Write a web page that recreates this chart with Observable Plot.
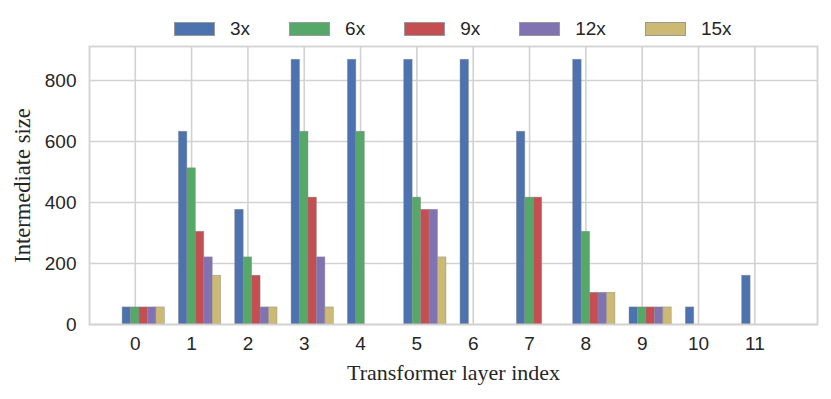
<!DOCTYPE html>
<html>
<head>
<meta charset="utf-8">
<script src="https://cdn.jsdelivr.net/npm/d3@7"></script>
<script src="https://cdn.jsdelivr.net/npm/@observablehq/plot@0.6"></script>
<style>
  html, body { margin: 0; padding: 0; background: #fff; }
  #wrap { width: 831px; height: 399px; font-family: "Liberation Sans", Arial, sans-serif; color: #262626; }
  #legend { width: 831px; height: 40px; box-sizing: border-box; padding: 18px 0 0 174px;
            display: flex; justify-content: flex-start; align-items: center; gap: 39px; font-size: 19px; }
  .item { display: flex; align-items: center; gap: 15px; }
  .sw { width: 41px; height: 14px; box-sizing: border-box; border: 0.6px solid #999; }
</style>
</head>
<body>
<div id="wrap">
  <div id="legend"></div>
  <div id="chart"></div>
</div>
<script>
const layers = [0, 1, 2, 3, 4, 5, 6, 7, 8, 9, 10, 11];
const seriesNames = ["3x", "6x", "9x", "12x", "15x"];
const seriesColors = ["#4C72B0", "#55A868", "#C44E52", "#8172B2", "#CCB974"];
const v3x  = [56, 632, 376, 868, 868, 868, 868, 632, 868, 56, 56, 160];
const v6x  = [56, 512, 220, 632, 632, 416, 0, 416, 304, 56, 0, 0];
const v9x  = [56, 304, 160, 416, 0, 376, 0, 416, 104, 56, 0, 0];
const v12x = [56, 220, 56, 220, 0, 376, 0, 0, 104, 56, 0, 0];
const v15x = [56, 160, 56, 56, 0, 220, 0, 0, 104, 56, 0, 0];
const yTicks = [0, 200, 400, 600, 800];

const seriesValues = [v3x, v6x, v9x, v12x, v15x];
const barWidth = 0.15;
const rows = [];
seriesValues.forEach((vals, k) => {
  vals.forEach((v, i) => {
    if (v > 0) rows.push({layer: layers[i], k, series: seriesNames[k], value: v});
  });
});

// legend
const legend = document.getElementById("legend");
seriesNames.forEach((s, k) => {
  const it = document.createElement("div");
  it.className = "item";
  const sw = document.createElement("div");
  sw.className = "sw";
  sw.style.background = seriesColors[k];
  const t = document.createElement("span");
  t.textContent = s;
  it.appendChild(sw); it.appendChild(t);
  legend.appendChild(it);
});

const gridStyle = {stroke: "#d2d2d2", strokeOpacity: 1, strokeWidth: 1.6};
const serif = "'Liberation Serif', 'Times New Roman', serif";

const chart = Plot.plot({
  width: 831,
  height: 359,
  marginTop: 6,
  marginBottom: 75,
  marginLeft: 89,
  marginRight: 14,
  style: {fontFamily: "'Liberation Sans', Arial, sans-serif", fontSize: "19px", color: "#262626", background: "#fff"},
  x: {domain: [-0.8125, 12.1125]},
  y: {domain: [0, 911.4]},
  color: {domain: seriesNames, range: seriesColors},
  marks: [
    Plot.gridX(layers, gridStyle),
    Plot.gridY(yTicks, gridStyle),
    Plot.rectY(rows, {
      x1: d => d.layer + (d.k - 1) * barWidth - barWidth / 2,
      x2: d => d.layer + (d.k - 1) * barWidth + barWidth / 2,
      y1: 0,
      y2: "value",
      fill: "series",
      stroke: "#8a8a8a",
      strokeOpacity: 0.7,
      strokeWidth: 0.6
    }),
    Plot.frame({stroke: "#d2d2d2", strokeWidth: 1.8}),
    Plot.axisX(layers, {tickSize: 0, tickPadding: 12, label: null, tickFormat: d => String(d)}),
    Plot.axisY(yTicks, {tickSize: 0, tickPadding: 13, label: null}),
    Plot.text(["Transformer layer index"], {frameAnchor: "bottom", dy: 48, textAnchor: "middle", lineAnchor: "middle", fontFamily: serif, fontSize: 22, fill: "#262626"}),
    Plot.text(["Intermediate size"], {frameAnchor: "left", dx: -67, rotate: -90, textAnchor: "middle", lineAnchor: "middle", fontFamily: serif, fontSize: 22.5, fill: "#262626"})
  ]
});
document.getElementById("chart").appendChild(chart);
</script>
</body>
</html>
